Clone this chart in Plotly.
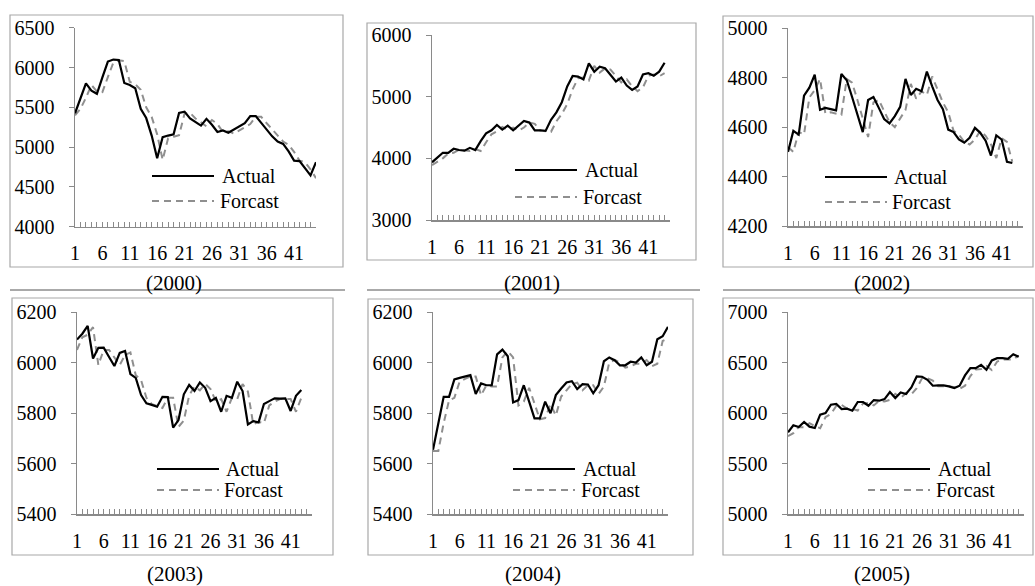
import plotly.graph_objects as go

# ---------------- data ----------------
years = ["2000", "2001", "2002", "2003", "2004", "2005"]

actual_2000 = [5425, 5605, 5800, 5710, 5670, 5875, 6075, 6100, 6095, 5805, 5780, 5740, 5480, 5365, 5145,
               4860, 5125, 5145, 5160, 5430, 5445, 5360, 5320, 5270, 5355, 5280, 5190, 5210, 5180, 5220,
               5260, 5300, 5390, 5390, 5305, 5215, 5135, 5070, 5040, 4945, 4830, 4825, 4730, 4645, 4810]
forecast_2000 = [5400, 5480, 5620, 5780, 5700, 5690, 5880, 6060, 6090, 6080, 5820, 5790, 5720, 5500, 5380,
                 5160, 4840, 5110, 5130, 5150, 5420, 5430, 5360, 5310, 5260, 5340, 5290, 5190, 5200, 5170,
                 5210, 5250, 5290, 5380, 5380, 5300, 5220, 5140, 5070, 5030, 4940, 4830, 4810, 4720, 4610]

actual_2001 = [3935, 4010, 4090, 4090, 4155, 4135, 4125, 4170, 4135, 4280, 4405, 4455, 4540, 4465, 4530,
               4455, 4530, 4605, 4580, 4455, 4455, 4445, 4625, 4745, 4910, 5165, 5335, 5325, 5280, 5540,
               5405, 5485, 5460, 5360, 5245, 5310, 5180, 5110, 5165, 5360, 5380, 5340, 5405, 5550]
forecast_2001 = [3890, 3940, 4000, 4080, 4090, 4140, 4130, 4120, 4150, 4120, 4260, 4390, 4440, 4510, 4460,
                 4500, 4450, 4500, 4580, 4560, 4450, 4440, 4430, 4600, 4720, 4880, 5120, 5300, 5310, 5260,
                 5500, 5390, 5460, 5440, 5340, 5230, 5280, 5170, 5090, 5150, 5340, 5360, 5330, 5380]

actual_2002 = [4500, 4585, 4570, 4727, 4760, 4812, 4670, 4678, 4673, 4668, 4815, 4790, 4722, 4651, 4580,
               4710, 4722, 4678, 4633, 4615, 4645, 4682, 4795, 4730, 4755, 4745, 4825, 4765, 4710, 4673,
               4590, 4580, 4550, 4537, 4557, 4597, 4577, 4545, 4485, 4567, 4550, 4460, 4455]
forecast_2002 = [4520, 4500, 4580, 4570, 4720, 4750, 4795, 4655, 4660, 4655, 4650, 4795, 4780, 4710, 4640,
                 4560, 4700, 4710, 4665, 4620, 4600, 4635, 4670, 4775, 4715, 4745, 4730, 4805, 4750, 4700,
                 4660, 4585, 4570, 4540, 4530, 4550, 4585, 4565, 4530, 4475, 4555, 4540, 4460]

actual_2003 = [6091, 6114, 6145, 6016, 6058, 6059, 6022, 5986, 6038, 6046, 5954, 5939, 5871, 5838, 5832,
               5825, 5864, 5863, 5742, 5772, 5874, 5911, 5887, 5921, 5900, 5847, 5860, 5805, 5868, 5860,
               5924, 5887, 5755, 5768, 5763, 5836, 5847, 5858, 5857, 5858, 5808, 5868, 5891]
forecast_2003 = [6050, 6100, 6110, 6140, 5990, 6050, 6050, 6020, 5990, 6030, 6040, 5950, 5930, 5860, 5835,
                 5828, 5820, 5860, 5860, 5745, 5770, 5870, 5905, 5890, 5915, 5895, 5845, 5855, 5805, 5860,
                 5855, 5915, 5885, 5755, 5765, 5760, 5830, 5845, 5855, 5855, 5855, 5805, 5860]

actual_2004 = [5654, 5759, 5864, 5864, 5933, 5939, 5946, 5950, 5875, 5917, 5910, 5910, 6032, 6051, 6025,
               5842, 5851, 5910, 5845, 5779, 5779, 5845, 5799, 5871, 5897, 5921, 5926, 5895, 5914, 5913,
               5878, 5910, 6005, 6020, 6009, 5989, 5989, 6003, 6000, 6020, 5989, 6003, 6092, 6104, 6141]
forecast_2004 = [5650, 5650, 5760, 5850, 5860, 5925, 5935, 5945, 5945, 5870, 5910, 5905, 5905, 6020, 6045,
                 6020, 5830, 5845, 5900, 5840, 5775, 5780, 5835, 5790, 5865, 5890, 5915, 5920, 5890, 5910,
                 5910, 5875, 5905, 6000, 6010, 6000, 5980, 5985, 5995, 5995, 6010, 5985, 5995, 6085, 6095]

actual_2005 = [5809, 5878, 5862, 5911, 5865, 5852, 5984, 6000, 6082, 6089, 6039, 6043, 6023, 6109, 6109,
               6072, 6128, 6122, 6138, 6207, 6148, 6204, 6188, 6253, 6362, 6359, 6329, 6270, 6273, 6273,
               6263, 6247, 6270, 6372, 6444, 6444, 6477, 6428, 6520, 6543, 6543, 6536, 6582, 6556]
forecast_2005 = [5770, 5800, 5860, 5860, 5900, 5870, 5850, 5960, 5990, 6070, 6080, 6045, 6040, 6025, 6095,
                 6100, 6075, 6120, 6115, 6130, 6190, 6150, 6195, 6185, 6245, 6345, 6345, 6320, 6265, 6265,
                 6265, 6255, 6240, 6270, 6365, 6430, 6435, 6465, 6425, 6510, 6530, 6530, 6530, 6570]

y_ranges = [[4000, 6500], [3000, 6000], [4200, 5000], [5400, 6200], [5400, 6200], [5000, 7000]]
y_dticks = [500, 1000, 200, 200, 200, 500]
x_tick_start, x_tick_step, x_max = 1, 5, 45
series_names = ["Actual", "Forcast"]

actuals = [actual_2000, actual_2001, actual_2002, actual_2003, actual_2004, actual_2005]
forecasts = [forecast_2000, forecast_2001, forecast_2002, forecast_2003, forecast_2004, forecast_2005]

# ---------------- layout (pixel geometry) ----------------
W, H = 1035, 586
def fx(x):
    return x / W
def fy(y):
    return 1 - y / H

panels = [
    dict(ax0=75, ax1=316, yt=27.7, yb=226.7, box=(10, 15, 343, 267), cap=(174, 283), leg=(152, 220, 176, 201)),
    dict(ax0=432, ax1=670, yt=35, yb=220, box=(367, 23, 696, 260), cap=(532, 283), leg=(515, 583, 170, 197)),
    dict(ax0=788, ax1=1023, yt=28.3, yb=226, box=(723, 16, 1033, 267), cap=(882, 283), leg=(825, 892, 177, 202)),
    dict(ax0=77, ax1=312, yt=312, yb=514, box=(12, 298, 333, 555), cap=(175, 574), leg=(157, 224, 469, 490)),
    dict(ax0=433, ax1=668, yt=312, yb=514, box=(368, 299, 693, 555), cap=(533, 574), leg=(513, 581, 469, 490)),
    dict(ax0=788, ax1=1024, yt=312, yb=514, box=(723, 298, 1033, 555), cap=(882, 574), leg=(868, 936, 469, 490)),
]

FONT = "Liberation Serif, Times New Roman, serif"
AXIS_COLOR = "#8a8a8a"
BOX_COLOR = "#a8a8a8"
FC_COLOR = "#8f8f8f"
DASH = "7px,5px"

fig = go.Figure()
shapes = []
annotations = []

for i, p in enumerate(panels):
    n = i + 1
    xa = "x" if n == 1 else f"x{n}"
    ya = "y" if n == 1 else f"y{n}"
    xs_a = list(range(1, len(actuals[i]) + 1))
    xs_f = list(range(1, len(forecasts[i]) + 1))
    fig.add_trace(go.Scatter(x=xs_f, y=forecasts[i], mode="lines", name=series_names[1],
                             line=dict(color=FC_COLOR, width=2, dash=DASH),
                             xaxis=xa, yaxis=ya, showlegend=False))
    fig.add_trace(go.Scatter(x=xs_a, y=actuals[i], mode="lines", name=series_names[0],
                             line=dict(color="black", width=2.2),
                             xaxis=xa, yaxis=ya, showlegend=False))

    xkey = "xaxis" if n == 1 else f"xaxis{n}"
    ykey = "yaxis" if n == 1 else f"yaxis{n}"
    fig.update_layout(**{
        xkey: dict(domain=[fx(p["ax0"]), fx(p["ax1"])], anchor=ya, range=[1, x_max],
                   tickmode="linear", tick0=x_tick_start, dtick=x_tick_step,
                   showgrid=False, zeroline=False, showline=True, linecolor=AXIS_COLOR, linewidth=1.5,
                   ticks="inside", ticklen=5, tickcolor=AXIS_COLOR, tickwidth=1,
                   minor=dict(tickmode="linear", tick0=1, dtick=1, ticks="inside", ticklen=5,
                              tickcolor=AXIS_COLOR, tickwidth=1, showgrid=False),
                   tickfont=dict(family=FONT, size=20, color="black"), ticklabelstandoff=8,
                   fixedrange=True, automargin=False),
        ykey: dict(domain=[fy(p["yb"]), fy(p["yt"])], anchor=xa, range=y_ranges[i],
                   tickmode="linear", tick0=y_ranges[i][0], dtick=y_dticks[i],
                   showgrid=False, zeroline=False, showline=True, linecolor=AXIS_COLOR, linewidth=1.5,
                   ticks="outside", ticklen=5, tickcolor=AXIS_COLOR, tickwidth=1,
                   tickfont=dict(family=FONT, size=20, color="black"), ticklabelstandoff=10,
                   fixedrange=True, automargin=False),
    })

    bx0, by0, bx1, by1 = p["box"]
    shapes.append(dict(type="rect", xref="paper", yref="paper",
                       x0=fx(bx0), x1=fx(bx1), y0=fy(by1), y1=fy(by0),
                       line=dict(color=BOX_COLOR, width=1.2), layer="below"))
    lx0, ltx, ly1, ly2 = p["leg"]
    shapes.append(dict(type="line", xref="paper", yref="paper",
                       x0=fx(lx0), x1=fx(lx0 + 62), y0=fy(ly1), y1=fy(ly1),
                       line=dict(color="black", width=2.2)))
    shapes.append(dict(type="line", xref="paper", yref="paper",
                       x0=fx(lx0), x1=fx(lx0 + 62), y0=fy(ly2), y1=fy(ly2),
                       line=dict(color=FC_COLOR, width=2, dash=DASH)))
    annotations.append(dict(x=fx(ltx), y=fy(ly1), xref="paper", yref="paper", text=series_names[0],
                            showarrow=False, xanchor="left", yanchor="middle",
                            font=dict(family=FONT, size=20, color="black")))
    annotations.append(dict(x=fx(ltx - 2), y=fy(ly2), xref="paper", yref="paper", text=series_names[1],
                            showarrow=False, xanchor="left", yanchor="middle",
                            font=dict(family=FONT, size=20, color="black")))
    cx, cy = p["cap"]
    annotations.append(dict(x=fx(cx), y=fy(cy), xref="paper", yref="paper", text=f"({years[i]})",
                            showarrow=False, xanchor="center", yanchor="middle",
                            font=dict(family=FONT, size=21, color="black")))

for (a, b) in [(10, 345), (367, 700), (723, 1035)]:
    shapes.append(dict(type="line", xref="paper", yref="paper",
                       x0=fx(a), x1=fx(b), y0=fy(290), y1=fy(290),
                       line=dict(color="#555555", width=1)))

fig.update_layout(width=W, height=H, margin=dict(l=0, r=0, t=0, b=0, pad=0, autoexpand=False),
                  paper_bgcolor="white", plot_bgcolor="white",
                  shapes=shapes, annotations=annotations, showlegend=False,
                  font=dict(family=FONT, color="black"))

fig.write_html("out.html", config={"responsive": False, "displayModeBar": False, "staticPlot": True},
               post_script="document.body.style.margin='0';document.body.style.padding='0';"
                           "document.documentElement.style.overflow='hidden';")
